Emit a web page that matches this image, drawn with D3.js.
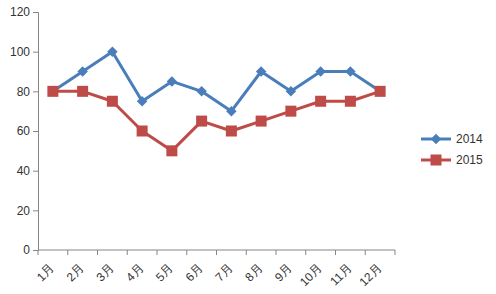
<!DOCTYPE html>
<html><head><meta charset="utf-8">
<script src="https://cdn.jsdelivr.net/npm/d3@7"></script>
<style>body{margin:0;background:#fff}svg text{font-family:"Liberation Sans",Arial,sans-serif}</style>
</head><body><svg id="c" width="496" height="294"></svg>
<script>
const months = ["1月","2月","3月","4月","5月","6月","7月","8月","9月","10月","11月","12月"];
const series2014 = [80,90,100,75,85,80,70,90,80,90,90,80];
const series2015 = [80,80,75,60,50,65,60,65,70,75,75,80];
const yTicks = [0,20,40,60,80,100,120];
const seriesNames = ["2014","2015"];
const colors = ["#4a7ebb","#be4b48"];

const svg = d3.select("#c");
const x = d3.scaleBand().domain(months).range([38,395]).padding(0);
const y = d3.scaleLinear().domain([0,120]).range([250,12]);
const cx = m => x(m) + x.bandwidth()/2;

// y axis
const ya = svg.append("g").attr("transform","translate(38,0)")
  .call(d3.axisLeft(y).tickValues(yTicks).tickSize(5).tickPadding(3));
ya.select(".domain").attr("stroke","#868686");
ya.selectAll(".tick line").attr("stroke","#868686");
ya.selectAll("text").attr("font-size",12).attr("fill","#333");

// x axis
const xa = svg.append("g").attr("transform","translate(0,250)");
xa.append("line").attr("x1",38).attr("x2",395).attr("stroke","#868686");
const bounds = months.map(m=>x(m)).concat([x(months[11])+x.bandwidth()]);
xa.selectAll(".bt").data(bounds).join("line").attr("class","bt")
  .attr("x1",d=>d).attr("x2",d=>d).attr("y1",0).attr("y2",5).attr("stroke","#868686");
xa.selectAll(".lbl").data(months).join("text").attr("class","lbl")
  .attr("transform",d=>`translate(${cx(d)-1},${16}) rotate(-45)`)
  .attr("text-anchor","end").attr("dy","0.35em")
  .attr("font-size",12).attr("fill","#333").text(d=>d);

const line = d3.line().x((d,i)=>cx(months[i])).y(d=>y(d));
const data = [series2014, series2015];
data.forEach((s,k)=>{
  svg.append("path").datum(s).attr("d",line).attr("fill","none")
    .attr("stroke",colors[k]).attr("stroke-width",3).attr("stroke-linejoin","round");
  const g = svg.append("g");
  s.forEach((v,i)=>{
    if(k===0){
      g.append("path").attr("d",d3.symbol(d3.symbolDiamond2,70)())
        .attr("transform",`translate(${cx(months[i])},${y(v)})`).attr("fill",colors[k]);
    } else {
      g.append("rect").attr("x",cx(months[i])-5.5).attr("y",y(v)-5.5)
        .attr("width",11).attr("height",11).attr("fill",colors[k]);
    }
  });
});

// legend
const lg = svg.append("g");
seriesNames.forEach((n,k)=>{
  const ly = 139 + k*21;
  lg.append("line").attr("x1",421).attr("x2",451).attr("y1",ly).attr("y2",ly)
    .attr("stroke",colors[k]).attr("stroke-width",3);
  if(k===0){
    lg.append("path").attr("d",d3.symbol(d3.symbolDiamond2,70)())
      .attr("transform",`translate(436,${ly})`).attr("fill",colors[k]);
  } else {
    lg.append("rect").attr("x",430.5).attr("y",ly-5.5).attr("width",11).attr("height",11).attr("fill",colors[k]);
  }
  lg.append("text").attr("x",456).attr("y",ly).attr("dy","0.35em")
    .attr("font-size",12).attr("fill","#333").text(n);
});
</script></body></html>
